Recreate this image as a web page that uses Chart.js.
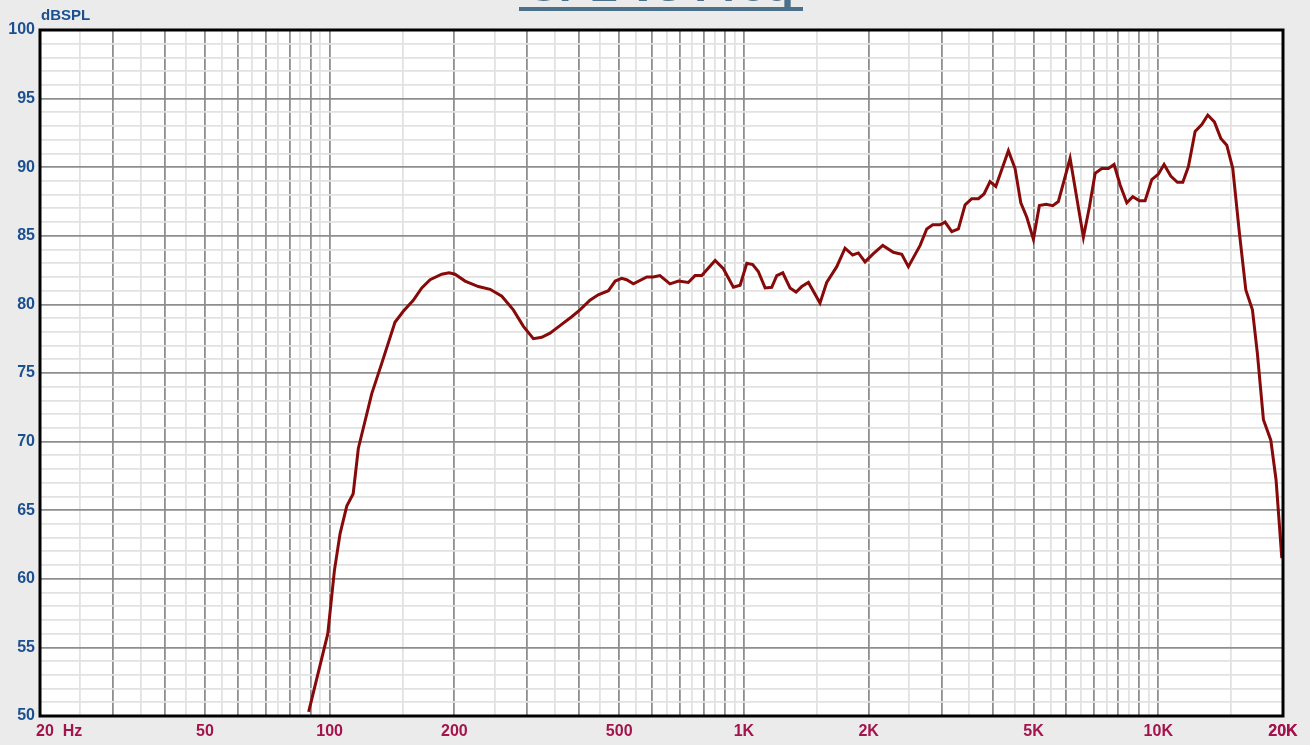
<!DOCTYPE html>
<html>
<head>
<meta charset="utf-8">
<title>SPL vs Freq</title>
<script src="https://cdn.jsdelivr.net/npm/chart.js@4/dist/chart.umd.min.js"></script>
<style>
  html, body { margin: 0; padding: 0; background: #ebebeb; overflow: hidden; }
  canvas { display: block; }
</style>
</head>
<body>
<canvas id="spl" width="1310" height="745"></canvas>
<script>
// --- measured response (Hz / dB SPL) ---
const freqs = [
  89, 99, 102.7, 106, 110, 114, 117.3, 126.4, 133.6, 143.8,
  150.6, 159.2, 166.9, 174.8, 186.5, 194.2, 200.8, 212.3, 228.6, 244,
  260.4, 277.6, 293.6, 310.3, 325, 340.4, 359.8, 384, 402, 425,
  445, 471, 489, 507, 521, 541, 583, 604, 627, 663,
  695, 734, 762, 791, 852, 892, 943, 979, 1016, 1050,
  1083, 1125, 1167, 1200, 1241, 1292, 1336, 1379, 1431, 1526,
  1584, 1675, 1754, 1830, 1889, 1960, 2053, 2163, 2294, 2404,
  2494, 2662, 2762, 2856, 2974, 3058, 3174, 3293, 3418, 3547,
  3680, 3797, 3926, 4054, 4348, 4512, 4658, 4816, 4996, 5164,
  5360, 5564, 5740, 6126, 6596, 6820, 7040, 7306, 7578, 7822,
  8090, 8396, 8680, 9006, 9294, 9646, 10008, 10328, 10720, 11122,
  11460, 11824, 12272, 12736, 13168, 13660, 14156, 14634, 15130, 15698,
  16266, 16876, 17350, 17938, 18690, 19246, 19868
];
const spl = [
  50.3, 56.0, 60.6, 63.3, 65.3, 66.2, 69.5, 73.5, 75.7, 78.7,
  79.5, 80.3, 81.2, 81.8, 82.2, 82.3, 82.2, 81.7, 81.3, 81.1,
  80.6, 79.6, 78.4, 77.5, 77.6, 77.9, 78.45, 79.1, 79.6, 80.3,
  80.7, 81.0, 81.7, 81.9, 81.8, 81.5, 82.0, 82.0, 82.1, 81.5,
  81.7, 81.6, 82.1, 82.1, 83.2, 82.6, 81.25, 81.4, 83.0, 82.9,
  82.4, 81.2, 81.25, 82.1, 82.3, 81.2, 80.9, 81.3, 81.6, 80.1,
  81.6, 82.75, 84.1, 83.6, 83.75, 83.1, 83.7, 84.3, 83.8, 83.65,
  82.75, 84.3, 85.5, 85.8, 85.8, 86.0, 85.3, 85.5, 87.25, 87.7,
  87.7, 88.05, 88.95, 88.6, 91.2, 89.9, 87.4, 86.35, 84.75, 87.2,
  87.3, 87.2, 87.5, 90.65, 84.9, 87.1, 89.55, 89.9, 89.9, 90.2,
  88.7, 87.4, 87.85, 87.55, 87.55, 89.1, 89.5, 90.2, 89.35, 88.9,
  88.9, 90.05, 92.6, 93.1, 93.8, 93.3, 92.1, 91.6, 89.9, 85.2,
  81.05, 79.6, 76.4, 71.6, 70.1, 67.2, 61.5
];

// x axis labels
const xLabelValues = [20, 50, 100, 200, 500, 1000, 2000, 5000, 10000, 20000];
const xLabelTexts  = ['20', '50', '100', '200', '500', '1K', '2K', '5K', '10K', '20K'];

const X_MIN = 20, X_MAX = 20000;
const Y_MIN = 50, Y_MAX = 100;

const LABEL_FONT = { family: '"Liberation Sans", Arial, sans-serif', size: 16, weight: 'bold' };
const X_COLOR = '#a3134c';
const Y_COLOR = '#1c4f8f';
const GRID_MAJOR = '#8e8e8e';
const GRID_MINOR = '#e2e2e2';

// vertical grid: 1, 1.5, 2, ... 9.5 per decade
const xGrid = [];
for (let dec = 10; dec <= 10000; dec *= 10) {
  for (let m = 1; m < 10; m += 0.5) {
    const v = m * dec;
    if (v >= X_MIN && v <= X_MAX) xGrid.push(v);
  }
}
xGrid.push(X_MAX);

function isMajorFreq(v) {
  const m = v / Math.pow(10, Math.floor(Math.log10(v) + 1e-9));
  return Math.abs(m - Math.round(m)) < 1e-6;
}

const points = freqs.map((f, i) => ({ x: f, y: spl[i] }));

// page background, white plot area, frame, title and the "20 Hz" label
const decor = {
  id: 'decor',
  beforeDraw(chart) {
    const { ctx, chartArea: a } = chart;
    ctx.save();
    ctx.fillStyle = '#ebebeb';
    ctx.fillRect(0, 0, chart.width, chart.height);
    ctx.fillStyle = '#ffffff';
    ctx.fillRect(a.left, a.top, a.right - a.left, a.bottom - a.top);
    ctx.restore();
  },
  afterDraw(chart) {
    const { ctx, chartArea: a } = chart;
    const xs = chart.scales.x;
    ctx.save();
    // frame
    ctx.strokeStyle = '#000';
    ctx.lineWidth = 3;
    ctx.strokeRect(a.left, a.top, a.right - a.left, a.bottom - a.top);

    // title, mostly above the top edge
    ctx.fillStyle = '#4a7189';
    ctx.font = 'bold 46px "Liberation Sans", Arial, sans-serif';
    ctx.textAlign = 'center';
    ctx.textBaseline = 'alphabetic';
    ctx.fillText('SPL vs Freq', 661, 1);
    ctx.fillRect(519, 7, 284, 4);

    // axis unit labels
    ctx.font = 'bold 15px "Liberation Sans", Arial, sans-serif';
    ctx.fillStyle = Y_COLOR;
    ctx.textAlign = 'left';
    ctx.fillText('dBSPL', a.left + 1, 20);

    ctx.font = 'bold 16px "Liberation Sans", Arial, sans-serif';
    ctx.fillStyle = X_COLOR;
    ctx.textBaseline = 'middle';
    ctx.fillText('20  Hz', xs.getPixelForValue(20) - 4, 732);
    ctx.restore();
  }
};

new Chart(document.getElementById('spl'), {
  type: 'line',
  data: {
    datasets: [{
      data: points,
      borderColor: '#860a0a',
      borderWidth: 3,
      pointRadius: 0,
      tension: 0,
      fill: false
    }]
  },
  options: {
    responsive: false,
    animation: false,
    layout: { padding: { top: 30, right: 27, left: 0, bottom: 0 } },
    plugins: { legend: { display: false }, tooltip: { enabled: false } },
    scales: {
      x: {
        type: 'logarithmic',
        min: X_MIN,
        max: X_MAX,
        afterBuildTicks(scale) {
          scale.ticks = xGrid.map(v => ({ value: v }));
        },
        afterFit(scale) { scale.height = 29; },
        border: { display: false },
        grid: {
          drawTicks: false,
          color: c => isMajorFreq(c.tick.value) ? GRID_MAJOR : GRID_MINOR,
          lineWidth: 1.8
        },
        ticks: {
          autoSkip: false,
          maxRotation: 0,
          padding: 6,
          color: X_COLOR,
          font: LABEL_FONT,
          callback(value) {
            const i = xLabelValues.findIndex(v => Math.abs(v - value) < 1e-6);
            if (i <= 0) return '';
            return xLabelTexts[i];
          }
        }
      },
      y: {
        type: 'linear',
        min: Y_MIN,
        max: Y_MAX,
        afterFit(scale) { scale.width = 40; },
        border: { display: false },
        grid: {
          drawTicks: false,
          color: c => c.tick.value % 5 === 0 ? GRID_MAJOR : GRID_MINOR,
          lineWidth: 1.8
        },
        ticks: {
          stepSize: 1,
          autoSkip: false,
          padding: 5,
          color: Y_COLOR,
          font: LABEL_FONT,
          callback: v => (v % 5 === 0 ? String(v) : '')
        }
      }
    }
  },
  plugins: [decor]
});
</script>
</body>
</html>
